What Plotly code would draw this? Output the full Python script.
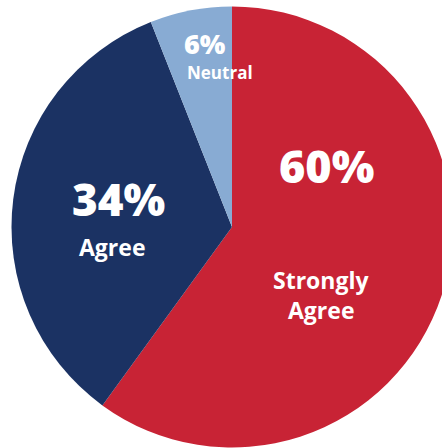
import plotly.graph_objects as go

# Data
labels = ["Strongly Agree", "Agree", "Neutral"]
values = [60, 34, 6]
label_lines = [["Strongly", "Agree"], ["Agree"], ["Neutral"]]
colors = ["#C82335", "#1B3263", "#88ABD3"]

W, H = 454, 448
cx, cy, r = 232, 227, 220.5

fig = go.Figure(
    go.Pie(
        labels=labels,
        values=values,
        sort=False,
        direction="clockwise",
        rotation=0,
        marker=dict(colors=colors, line=dict(width=0)),
        textinfo="none",
        hoverinfo="label+percent",
        domain=dict(x=[(cx - r) / W, (cx + r) / W], y=[1 - (cy + r) / H, 1 - (cy - r) / H]),
        showlegend=False,
    )
)

# label positions (pixels) and sizes
pct_pos = [(326, 165, 45), (118, 199, 44), (205, 43, 27)]
name_pos = [(321, 280, 23), (112, 247, 23), (220, 72, 17)]
line_gap = 30

FONT = "Open Sans"
ann = []
for i in range(len(values)):
    x, y, s = pct_pos[i]
    ann.append(dict(x=x / W, y=1 - y / H, xref="paper", yref="paper", showarrow=False,
                    text=f"{values[i]}%", font=dict(family=FONT, size=s, color="white", weight=800),
                    xanchor="center", yanchor="middle"))
    x, y, s = name_pos[i]
    for j, line in enumerate(label_lines[i]):
        ann.append(dict(x=x / W, y=1 - (y + j * line_gap) / H, xref="paper", yref="paper", showarrow=False,
                        text=line, font=dict(family=FONT, size=s, color="white", weight=700),
                        xanchor="center", yanchor="middle"))

fig.update_layout(
    width=W, height=H,
    margin=dict(l=0, r=0, t=0, b=0),
    paper_bgcolor="white",
    plot_bgcolor="white",
    annotations=ann,
)

fig.write_html("out.html", post_script="document.body.style.overflow='hidden';document.documentElement.style.overflow='hidden';")
